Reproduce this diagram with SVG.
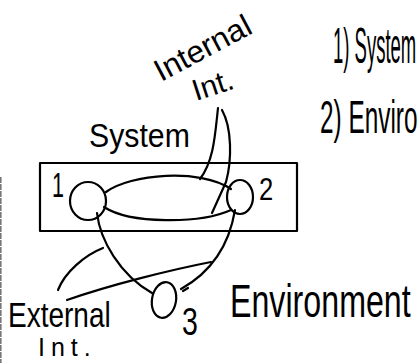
<svg xmlns="http://www.w3.org/2000/svg" width="418" height="363" viewBox="0 0 418 363">
<style>
.ln{fill:none;stroke:#000;stroke-width:2.2;stroke-linecap:round;stroke-linejoin:round}
.tx{font-family:"Liberation Sans","DejaVu Sans",sans-serif;fill:#000}
</style>
<rect width="418" height="363" fill="#fff"/>
<line x1="0.8" y1="177" x2="0.8" y2="363" stroke="#777" stroke-width="1.6" stroke-dasharray="6 1"/>
<g id="system-box">
<rect class="ln" x="40" y="163" width="257" height="68" stroke-width="2.5"/>
<text class="tx" font-size="34" transform="translate(89,147) scale(0.89,1)">System</text>
</g>
<g id="node1">
<ellipse class="ln" cx="88" cy="201" rx="18" ry="19"/>
<text class="tx" font-size="36" transform="translate(52,197) scale(0.6,1)">1</text>
</g>
<g id="node2">
<ellipse class="ln" cx="240" cy="197" rx="13" ry="17"/>
<text class="tx" font-size="32" transform="translate(259,200) scale(0.8,1)">2</text>
</g>
<g id="node3">
<ellipse class="ln" cx="164" cy="300" rx="12" ry="18" transform="rotate(10 164 300)"/>
<text class="tx" font-size="38" transform="translate(182,335) scale(0.75,1)">3</text>
</g>
<g id="connectors">
<path class="ln" d="M106,192 C130,174 200,168 231,189"/>
<path class="ln" d="M104,207 C130,224 200,224 231,210"/>
<path class="ln" d="M218,108 C215,135 214,160 200,179"/>
<path class="ln" d="M222,110 C232,128 232,160 226,182 L212,213"/>
<path class="ln" d="M97,213 C100,240 120,275 152,293"/>
<path class="ln" d="M235,210 C230,240 215,270 181,289"/>
<path class="ln" d="M58,290 C65,272 85,255 103,248"/>
<path class="ln" d="M67,300 C110,285 170,270 211,262"/>
<path class="ln" d="M183,291 L188,288"/>
</g>
<g id="labels">
<text class="tx" font-size="31" transform="translate(161,82) rotate(-28) scale(1.02,1)">Internal</text>
<text class="tx" font-size="30" transform="translate(196,101) rotate(-18)">Int.</text>
<text class="tx" font-size="50" transform="translate(333,63) scale(0.37,1)">1) System</text>
<text class="tx" font-size="46" transform="translate(320,133) scale(0.53,1)">2) Enviro</text>
<text class="tx" font-size="46" transform="translate(230,317) scale(0.7,1)">Environment</text>
<text class="tx" font-size="35" transform="translate(8,327) scale(0.8,1)">External</text>
<text class="tx" font-size="25" x="38" y="356" letter-spacing="6">Int.</text>
</g>
</svg>
